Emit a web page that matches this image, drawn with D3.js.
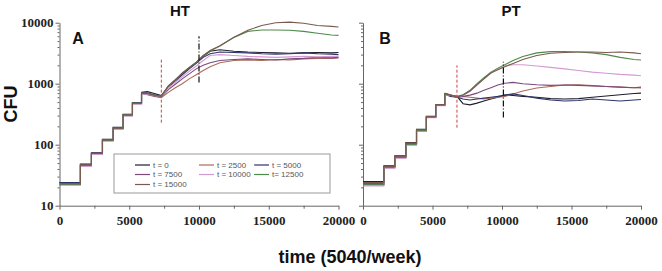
<!DOCTYPE html>
<html>
<head>
<meta charset="utf-8">
<script src="https://cdn.jsdelivr.net/npm/d3@7"></script>
<style>
  body { margin: 0; background: #fff; }
  svg { display: block; }
</style>
</head>
<body>
<svg id="chart" width="662" height="271"></svg>
<script>
// series names (legend) and colours
const seriesNames = ["t = 0", "t = 2500", "t = 5000", "t = 7500", "t = 10000", "t= 12500", "t = 15000"]
const seriesColors = ["#1e1e2e", "#b06a5a", "#2c3468", "#7a4a7a", "#d49ad4", "#4e8a4a", "#7a5a50"]

// staircase part (weekly steps), shared times
const stepTimes = [0, 1500, 2290, 3080, 3850, 4560, 5230, 5880]

// HT panel
const stepsA = [
  [24, 48, 74, 123, 192, 315, 490, 720],
  [23, 46, 71, 118, 185, 305, 475, 690],
  [24, 47, 73, 121, 190, 310, 485, 710],
  [22, 45, 70, 116, 182, 300, 470, 680],
  [23, 44, 69, 114, 180, 296, 462, 670],
  [22, 46, 72, 119, 188, 308, 480, 700],
  [23, 47, 72, 120, 187, 306, 478, 700]
]
const tailTimesA = [6300, 6800, 7300, 7800, 8300, 8800, 9300, 9800, 10300, 10800, 11500, 12500, 13500, 14500, 15500, 16500, 17500, 18500, 19500, 20000]
const tailsA = [
  [740, 690, 640, 900, 1150, 1450, 1800, 2200, 2800, 3400, 3600, 3400, 3300, 3250, 3200, 3150, 3200, 3250, 3200, 3250],
  [660, 620, 590, 720, 860, 1000, 1200, 1400, 1650, 1900, 2200, 2400, 2450, 2400, 2500, 2450, 2550, 2600, 2600, 2650],
  [700, 660, 620, 880, 1100, 1400, 1750, 2150, 2700, 3100, 3300, 3250, 3200, 3100, 3050, 3100, 3200, 3100, 3050, 3000],
  [670, 630, 600, 800, 980, 1200, 1450, 1750, 2000, 2200, 2400, 2500, 2550, 2500, 2450, 2550, 2600, 2700, 2650, 2700],
  [680, 640, 610, 850, 1050, 1300, 1600, 1950, 2400, 2900, 3000, 2900, 2800, 2750, 2700, 2750, 2800, 2750, 2800, 2800],
  [690, 650, 620, 910, 1150, 1480, 1830, 2230, 2850, 3450, 4150, 5700, 7200, 7600, 7600, 7500, 7200, 6700, 6300, 6200],
  [690, 650, 620, 920, 1150, 1500, 1850, 2250, 2900, 3500, 4200, 5800, 7500, 9000, 10000, 10200, 9800, 9000, 8700, 8500]
]

// PT panel
const stepsB = [
  [25, 45, 66, 108, 178, 292, 455, 700],
  [24, 44, 64, 105, 174, 288, 448, 690],
  [22, 42, 61, 100, 168, 280, 440, 670],
  [23, 43, 63, 104, 172, 285, 446, 680],
  [21, 41, 60, 98, 165, 276, 436, 660],
  [22, 43, 62, 102, 170, 283, 444, 675],
  [24, 44, 65, 106, 176, 290, 452, 695]
]
const tailTimesB = [6300, 6760, 7200, 7700, 8200, 8700, 9200, 9700, 10200, 10800, 11500, 12500, 13500, 14500, 15500, 16500, 17500, 18500, 19500, 20000]
const tailsB = [
  [650, 620, 470, 450, 480, 520, 560, 600, 650, 640, 620, 600, 570, 560, 570, 600, 630, 660, 690, 700],
  [640, 600, 620, 600, 580, 560, 580, 600, 620, 680, 760, 850, 900, 950, 960, 930, 900, 880, 860, 850],
  [620, 600, 560, 540, 560, 580, 600, 620, 650, 680, 640, 580, 540, 520, 530, 560, 540, 520, 540, 550],
  [650, 600, 620, 650, 700, 780, 860, 950, 1020, 1050, 1000, 960, 940, 950, 940, 920, 900, 880, 860, 880],
  [640, 610, 640, 750, 950, 1200, 1500, 1750, 1950, 2050, 2050, 1950, 1850, 1750, 1650, 1550, 1480, 1420, 1380, 1350],
  [640, 620, 660, 780, 1000, 1250, 1550, 1800, 2050, 2400, 2800, 3200, 3350, 3350, 3300, 3200, 3000, 2700, 2500, 2450],
  [650, 600, 650, 760, 960, 1200, 1500, 1700, 1900, 2150, 2500, 2900, 3150, 3250, 3300, 3300, 3250, 3300, 3200, 3100]
]

// vertical markers: [time, low, high]
const redMarkA = [7300, 230, 2500], blackMarkA = [10000, 1050, 6000]
const redMarkB = [6760, 190, 2000], blackMarkB = [10100, 280, 2300]

const xTicks = [0, 5000, 10000, 15000, 20000]
const xMinor = [2500, 7500, 12500, 17500]
const yTicks = [10, 100, 1000, 10000]
const yMinor = [20, 30, 40, 50, 60, 70, 80, 90, 200, 300, 400, 500, 600, 700, 800, 900, 2000, 3000, 4000, 5000, 6000, 7000, 8000, 9000]

const svg = d3.select("#chart")
const plotTop = 22.7, plotBottom = 205.7

const y = d3.scaleLog().domain([10, 10000]).range([plotBottom, plotTop])

function panel(x0, x1, steps, tailTimes, tails, redMark, blackMark, showY) {
  const x = d3.scaleLinear().domain([0, 20000]).range([x0, x1])
  const g = svg.append("g")

  const ya = g.append("g").attr("transform", `translate(${x0},0)`)
    .call(d3.axisLeft(y).tickValues(yTicks).tickSize(4).tickPadding(2).tickSizeOuter(0)
      .tickFormat(showY ? d3.format("d") : ""))
  ya.append("g").call(d3.axisLeft(y).tickValues(yMinor).tickSize(2).tickFormat("").tickSizeOuter(0))
    .select(".domain").remove()

  const xa = g.append("g").attr("transform", `translate(0,${plotBottom})`)
    .call(d3.axisBottom(x).tickValues(xTicks).tickSize(4).tickPadding(6).tickSizeOuter(0)
      .tickFormat(d3.format("d")))
  xa.append("g").call(d3.axisBottom(x).tickValues(xMinor).tickSize(3).tickFormat("").tickSizeOuter(0))
    .select(".domain").remove()

  g.selectAll(".domain, .tick line").attr("stroke", "#666")
  g.selectAll(".tick text")
    .style("font-family", "'Liberation Serif', 'Times New Roman', serif")
    .style("font-weight", "bold").style("font-size", "13px").style("fill", "#222")

  const stair = d3.line().x((d, i) => x(stepTimes[i])).y(d => y(d)).curve(d3.curveStepAfter)
  const tail = d3.line().x(d => x(d[0])).y(d => y(d[1]))

  const lines = g.append("g").attr("fill", "none").attr("stroke-width", 1.1)
  steps.forEach((s, k) => {
    lines.append("path").attr("d", stair(s)).attr("stroke", seriesColors[k])
    const pts = [[stepTimes[stepTimes.length - 1], s[s.length - 1]]]
      .concat(tailTimes.map((t, i) => [t, tails[k][i]]))
    lines.append("path").attr("d", tail(pts)).attr("stroke", seriesColors[k])
  })

  g.append("line")
    .attr("x1", x(redMark[0])).attr("x2", x(redMark[0]))
    .attr("y1", y(redMark[1])).attr("y2", y(redMark[2]))
    .attr("stroke", "#d04040").attr("stroke-width", 1).attr("stroke-dasharray", "3,2")
  g.append("line")
    .attr("x1", x(blackMark[0])).attr("x2", x(blackMark[0]))
    .attr("y1", y(blackMark[1])).attr("y2", y(blackMark[2]))
    .attr("stroke", "#111").attr("stroke-width", 1.2).attr("stroke-dasharray", "6,2,1,2")
  return x
}

panel(59.5, 338.5, stepsA, tailTimesA, tailsA, redMarkA, blackMarkA, true)
panel(363, 641, stepsB, tailTimesB, tailsB, redMarkB, blackMarkB, false)

// titles and labels
const sans = "Arial, 'Liberation Sans', sans-serif"
const txt = (xp, yp, s, size) => svg.append("text").attr("x", xp).attr("y", yp)
  .attr("font-family", sans).attr("font-weight", "bold").attr("font-size", size)
  .attr("text-anchor", "middle").attr("fill", "#111").text(s)
txt(180, 16, "HT", 15)
txt(511, 16, "PT", 15)
txt(78, 44, "A", 16)
txt(385, 44, "B", 16)
txt(350, 263, "time (5040/week)", 18)
svg.append("text").attr("transform", "translate(17,104) rotate(-90)")
  .attr("font-family", sans).attr("font-weight", "bold").attr("font-size", 18)
  .attr("text-anchor", "middle").attr("fill", "#111").text("CFU")

// legend
const lg = svg.append("g")
lg.append("rect").attr("x", 114).attr("y", 154).attr("width", 216).attr("height", 39)
  .attr("fill", "#fff").attr("stroke", "#999").attr("stroke-width", 1)
const colX = [135, 199, 254], rowY = [165, 174.5, 184.5]
seriesNames.forEach((n, i) => {
  const cx = colX[i % 3], cy = rowY[Math.floor(i / 3)]
  lg.append("line").attr("x1", cx).attr("x2", cx + 15).attr("y1", cy).attr("y2", cy)
    .attr("stroke", seriesColors[i]).attr("stroke-width", 1.2)
  lg.append("text").attr("x", cx + 18).attr("y", cy).attr("dy", "0.35em")
    .attr("font-family", sans).attr("font-size", 8).attr("fill", "#555").text(n)
})
</script>
</body>
</html>
